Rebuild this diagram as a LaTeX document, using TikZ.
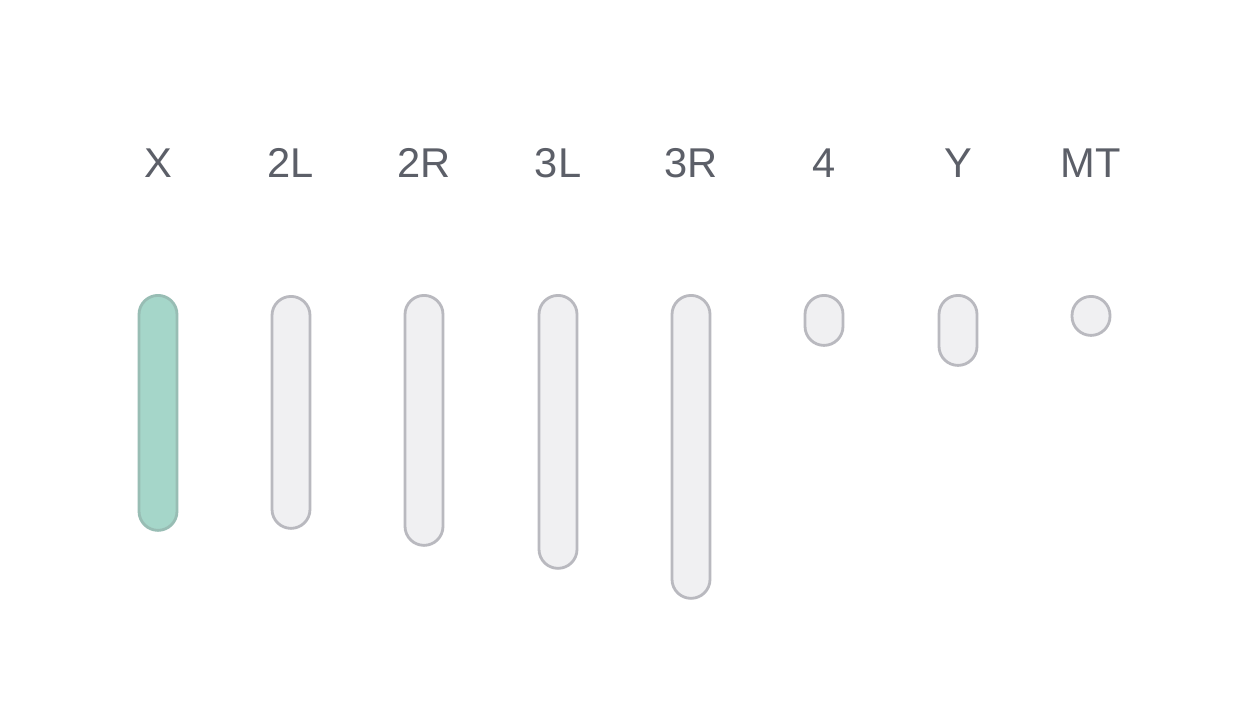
\documentclass[tikz,border=0pt]{standalone}
\usepackage{fontspec}
\setmainfont{Liberation Sans}
\usetikzlibrary{positioning}
\definecolor{LabelGrey}{HTML}{5C5F68}
\definecolor{BarFill}{HTML}{F0F0F2}
\definecolor{BarEdge}{HTML}{B9B9BF}
\definecolor{HiFill}{HTML}{A5D6C9}
\definecolor{HiEdge}{HTML}{98BDB4}

\begin{document}
\begin{tikzpicture}[
    x=0.02cm, y=-0.02cm,
    chrom/.style={draw=BarEdge, fill=BarFill, line width=1.6pt, rounded corners=0.38cm,
                  minimum width=0.76cm, inner sep=0pt, anchor=north},
    hichrom/.style={chrom, draw=HiEdge, fill=HiFill},
    arm/.style={text=LabelGrey, inner sep=0pt, anchor=base,
                font=\fontsize{23.7}{28}\selectfont},
  ]
    \useasboundingbox[fill=white] (0,0) rectangle (1233,720);
    % ---- labels ----
    \node[arm] (lX)  at (158,177)  {X};
    \node[arm] (l2L) at (291,177)  {2L};
    \node[arm] (l2R) at (424,177)  {2R};
    \node[arm] (l3L) at (558,177)  {3L};
    \node[arm] (l3R) at (691,177)  {3R};
    \node[arm] (l4)  at (824,177)  {4};
    \node[arm] (lY)  at (958,177)  {Y};
    \node[arm] (lMT) at (1091,177) {MT};
    % ---- chromosome arms ----
    \node[hichrom, minimum height=4.70cm] (cX)  at (158,294)  {};
    \node[chrom,   minimum height=4.64cm] (c2L) at (291,295)  {};
    \node[chrom,   minimum height=5.00cm] (c2R) at (424,294)  {};
    \node[chrom,   minimum height=5.46cm] (c3L) at (558,294)  {};
    \node[chrom,   minimum height=6.06cm] (c3R) at (691,294)  {};
    \node[chrom,   minimum height=1.00cm] (c4)  at (824,294)  {};
    \node[chrom,   minimum height=1.40cm] (cY)  at (958,294)  {};
    \node[chrom,   minimum height=0.78cm] (cMT) at (1091,295) {};
\end{tikzpicture}
\end{document}
